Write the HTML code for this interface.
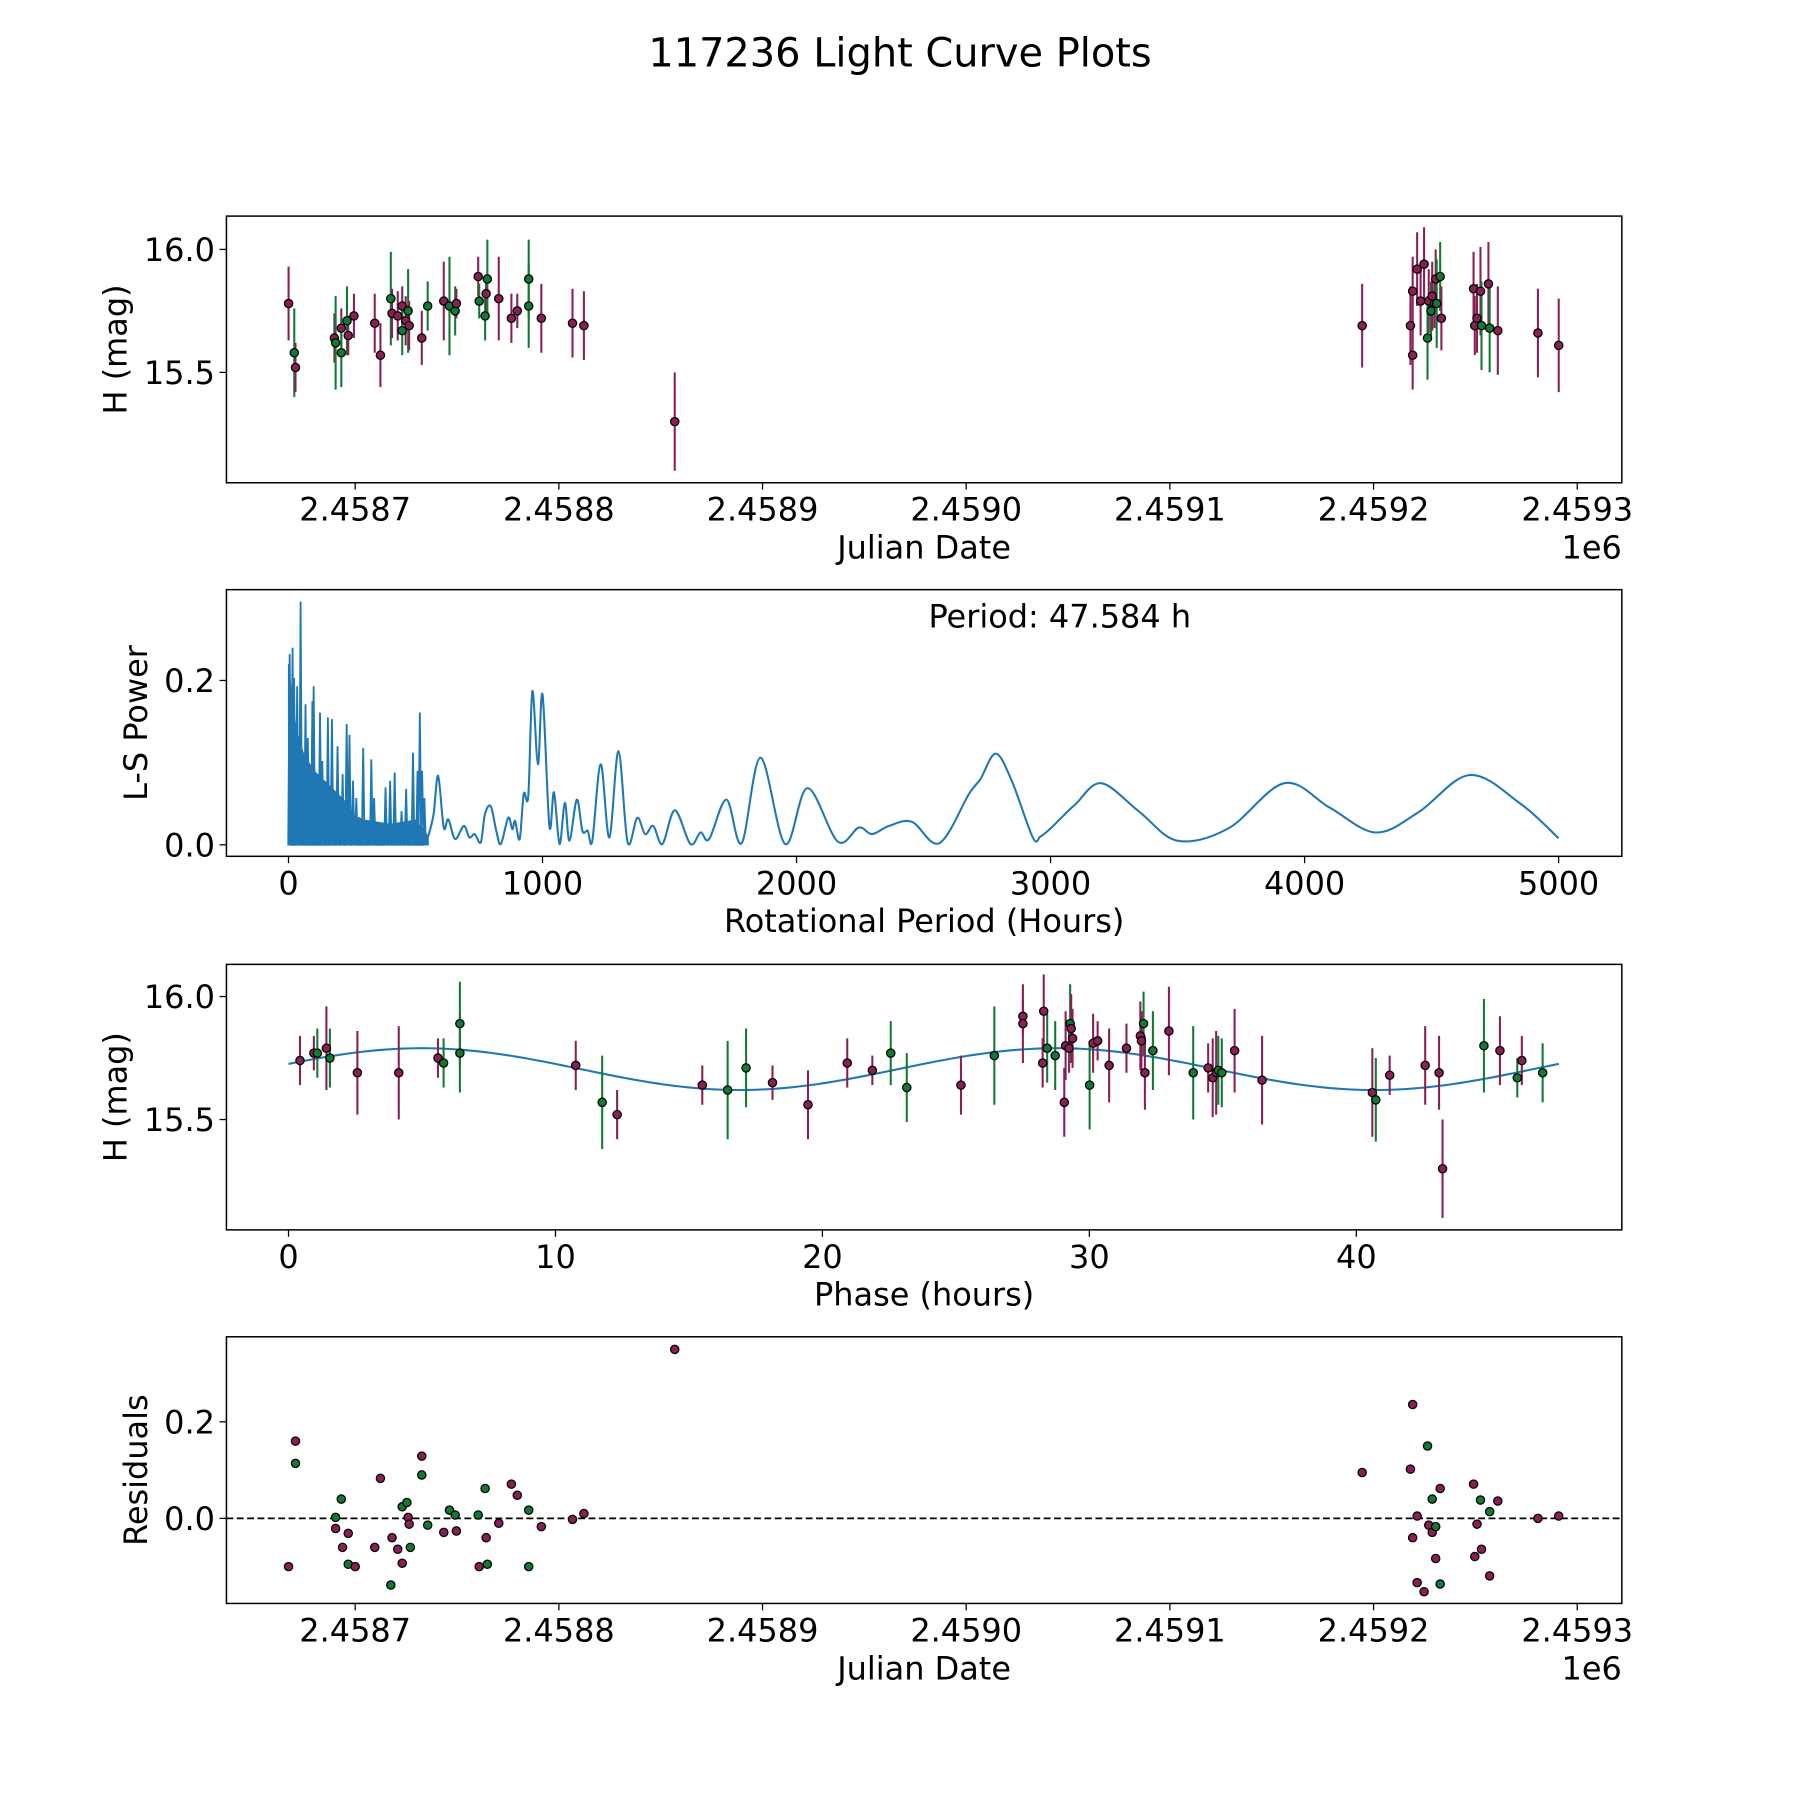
<!DOCTYPE html>
<html><head><meta charset="utf-8"><title>117236 Light Curve Plots</title>
<style>html,body{margin:0;padding:0;background:#fff}svg{display:block}text{font-family:"DejaVu Sans","Liberation Sans",sans-serif;fill:#000}</style>
</head><body>
<svg id="fig" xmlns="http://www.w3.org/2000/svg" width="1800" height="1800" viewBox="0 0 1566 1566">
<rect width="1566" height="1566" fill="#fff"/>
<text x="783" y="58" font-size="34.7" text-anchor="middle">117236 Light Curve Plots</text>
</svg>
<script>
// ---------- DATA ----------
// Panel 1: days since JD 2458700, magnitude, error, filter colour
const lcDays=[-32.7,-29.9,-29.3,-10.2,-9.6,-6.8,-6.8,-4.0,-3.4,-0.6,9.6,12.4,17.5,18.1,20.9,23.1,23.1,24.8,26.0,26.5,32.7,35.6,43.5,46.3,49.1,49.7,60.4,60.9,63.8,64.3,64.9,70.5,76.7,79.6,85.2,85.2,91.4,106.7,112.3,156.9,494.4,518.1,519.2,519.2,521.4,523.1,524.8,527.1,526.5,528.2,528.8,529.9,530.5,531.0,532.7,533.3,549.1,549.7,550.8,552.5,553.0,556.4,557.0,561.0,580.7,590.9];
const lcMag=[15.78,15.58,15.52,15.64,15.62,15.68,15.58,15.71,15.65,15.73,15.70,15.57,15.80,15.74,15.73,15.77,15.67,15.71,15.75,15.69,15.64,15.77,15.79,15.77,15.75,15.78,15.89,15.79,15.73,15.82,15.88,15.80,15.72,15.75,15.77,15.88,15.72,15.70,15.69,15.30,15.69,15.69,15.57,15.83,15.92,15.79,15.94,15.79,15.64,15.75,15.81,15.78,15.88,15.78,15.89,15.72,15.84,15.69,15.72,15.83,15.69,15.86,15.68,15.67,15.66,15.61];
const lcErr=[0.15,0.18,0.1,0.1,0.19,0.08,0.14,0.14,0.08,0.09,0.12,0.13,0.19,0.1,0.1,0.08,0.1,0.1,0.17,0.1,0.11,0.1,0.16,0.2,0.1,0.06,0.08,0.07,0.1,0.07,0.16,0.17,0.1,0.07,0.17,0.16,0.14,0.14,0.14,0.2,0.17,0.16,0.14,0.14,0.15,0.14,0.15,0.13,0.17,0.12,0.14,0.1,0.12,0.18,0.14,0.13,0.15,0.12,0.14,0.18,0.18,0.17,0.18,0.18,0.18,0.19];
const lcBand="PGPPGPGGPPPPGPPPGPGPPGPGGPPGGPGPPPGGPPPPPPPPPPPPGGPPPGGPPPPPGPGPPP";
// Panel 2: periodogram (hours, power)
const denseP=[4.5,16,22,34,47.6,67,76,94,99,124,133,155,171,193,213,229,240,254,267,294,326,337,382,400,418,445,463,490,508,517,526,535];
const denseV=[0.232,0.24,0.203,0.193,0.296,0.171,0.13,0.175,0.193,0.161,0.102,0.155,0.153,0.12,0.086,0.147,0.134,0.078,0.057,0.118,0.104,0.057,0.07,0.078,0.088,0.041,0.068,0.112,0.09,0.161,0.09,0.057];
const envP=[0,10,30,60,100,150,200,230,260,300,400,500,550];
const envV=[0.22,0.19,0.14,0.11,0.09,0.075,0.06,0.05,0.035,0.03,0.025,0.03,0.01];
const smoothP=[550,571,589,611,629,656,690,712,733,757,773,796,818,836,865,881,892,910,926,944,960,982,1000,1027,1045,1067,1088,1106,1135,1157,1178,1196,1229,1263,1299,1335,1373,1404,1436,1472,1521,1582,1622,1656,1724,1784,1858,1955,2043,2162,2245,2297,2364,2454,2562,2679,2724,2784,2847,2930,2960,3000,3049,3100,3200,3350,3500,3700,3920,4100,4280,4450,4650,4850,5000];
const smoothV=[0.01,0.037,0.084,0.021,0.031,0.007,0.023,0.009,0.013,0.003,0.037,0.047,0.017,0.001,0.033,0.019,0.029,0.007,0.062,0.06,0.187,0.098,0.183,0.023,0.064,0.001,0.051,0.005,0.055,0.017,0.017,0.005,0.098,0.009,0.114,0.003,0.033,0.013,0.023,0.001,0.042,0.001,0.015,0.007,0.055,0.002,0.106,0.001,0.069,0.004,0.021,0.013,0.023,0.028,0.002,0.062,0.08,0.111,0.078,0.009,0.01,0.02,0.035,0.05,0.075,0.04,0.005,0.02,0.075,0.045,0.015,0.04,0.085,0.05,0.008];
// Panel 3: phase-folded
const phHours=[0.43,0.95,1.08,1.42,1.55,2.58,4.13,5.60,5.81,6.42,6.42,10.76,11.75,12.31,15.50,16.45,17.14,18.13,19.46,20.93,21.87,22.56,23.16,25.19,26.44,27.51,27.51,28.25,28.29,28.42,28.72,29.06,29.11,29.24,29.28,29.32,29.37,30.01,30.14,30.31,30.74,31.39,31.91,31.95,32.03,32.08,32.38,32.98,33.89,34.45,34.62,34.75,34.83,34.96,35.44,36.47,40.60,40.73,41.25,42.58,43.10,43.23,44.78,45.38,46.03,46.20,46.98];
const phMag=[15.74,15.77,15.77,15.79,15.75,15.69,15.69,15.75,15.73,15.89,15.77,15.72,15.57,15.52,15.64,15.62,15.71,15.65,15.56,15.73,15.70,15.77,15.63,15.64,15.76,15.92,15.89,15.73,15.94,15.79,15.76,15.57,15.80,15.79,15.89,15.87,15.83,15.64,15.81,15.82,15.72,15.79,15.84,15.82,15.89,15.69,15.78,15.86,15.69,15.71,15.67,15.69,15.70,15.69,15.78,15.66,15.61,15.58,15.68,15.72,15.69,15.30,15.80,15.78,15.67,15.74,15.69];
const phErr=[0.1,0.07,0.1,0.17,0.12,0.17,0.19,0.08,0.1,0.17,0.16,0.1,0.19,0.1,0.08,0.2,0.16,0.07,0.14,0.1,0.06,0.13,0.14,0.12,0.2,0.07,0.16,0.1,0.15,0.14,0.14,0.14,0.14,0.1,0.16,0.14,0.12,0.18,0.12,0.08,0.15,0.1,0.14,0.12,0.13,0.15,0.16,0.18,0.19,0.1,0.16,0.17,0.14,0.14,0.17,0.18,0.18,0.17,0.08,0.16,0.15,0.2,0.19,0.14,0.08,0.1,0.12];
const phBand="PPGPGPPPGGGPGPPGGPPPPGGPGPPPPGGPPPGPPGPPPPPPGPGPGPPPGGPPPGPPPPGPGPG";
const modelMean=15.705, modelAmp=0.085, modelPeriod=23.79, modelShift=-0.95, foldPeriod=47.584;
// Panel 4: residuals
const resDays=[-32.7,-29.3,-29.3,-9.6,-9.6,-6.8,-6.2,-3.4,-3.4,0,9.6,12.4,17.5,18.1,20.9,23.1,23.1,25.4,26.0,26.5,27.1,32.7,32.7,35.6,43.5,46.3,49.1,49.7,60.4,60.9,63.8,64.3,64.9,70.5,76.7,79.6,85.2,85.2,91.4,106.7,112.3,156.9,494.4,518.1,519.2,519.2,521.4,521.4,524.8,526.5,527.1,528.8,528.8,530.5,530.5,532.7,532.7,549.1,549.7,550.8,552.5,553.0,557.0,557.0,561.0,580.7,590.9];
const resVal=[-0.1,0.16,0.114,0.002,-0.021,0.04,-0.06,-0.031,-0.095,-0.1,-0.06,0.083,-0.138,-0.04,-0.064,-0.093,0.024,0.033,0.002,-0.012,-0.06,0.129,0.09,-0.014,-0.029,0.017,0.007,-0.026,0.007,-0.1,0.062,-0.04,-0.095,-0.01,0.071,0.048,0.017,-0.1,-0.017,-0.002,0.01,0.35,0.095,0.102,0.236,-0.04,0.005,-0.133,-0.152,0.15,-0.014,0.04,-0.029,-0.017,-0.083,0.062,-0.136,0.071,-0.079,-0.012,0.038,-0.064,0.014,-0.119,0.036,0,0.005];
const resBand="PPGGPGPPGPPPGPPPGGPPGPGGPGGPGPGPGPPPGGPPPPPPPPPPPGPGPGPPGPPPGPGPPPP";
const jdTicks=[0,100,200,300,400,500,600];
const jdTickLabels=["2.4587","2.4588","2.4589","2.4590","2.4591","2.4592","2.4593"];
const magTicks=[15.5,16.0], magTickLabels=["15.5","16.0"];
const lsXTicks=[0,1000,2000,3000,4000,5000], lsYTicks=[0,0.2], lsYLabels=["0.0","0.2"];
const phXTicks=[0,10,20,30,40], resYTicks=[0,0.2], resYLabels=["0.0","0.2"];

// ---------- DRAW ----------
const NS="http://www.w3.org/2000/svg", svg=document.getElementById('fig');
const COL={P:"#8a1f56",G:"#117a32"};
function mk(tag,attrs,parent){const e=document.createElementNS(NS,tag);for(const k in attrs)e.setAttribute(k,attrs[k]);(parent||svg).appendChild(e);return e;}
function scale(d0,d1,r0,r1){return v=>r0+(v-d0)*(r1-r0)/(d1-d0);}
const L=197,R=1411;
function axes(name,top,bot,x,y,xt,xl,yt,yl,xlabel,ylabel,ylx){
  const g=mk('g',{});
  
  
  xt.forEach((v,i)=>{const px=x(v);mk('line',{x1:px,x2:px,y1:bot,y2:bot+6,stroke:'#000','stroke-width':1.1},g);
    const t=mk('text',{x:px,y:bot+33,'font-size':27.8,'text-anchor':'middle'},g);t.textContent=xl[i];
    });
  yt.forEach((v,i)=>{const py=y(v);mk('line',{x1:L-6,x2:L,y1:py,y2:py,stroke:'#000','stroke-width':1.1},g);
    const t=mk('text',{x:L-10,y:py+10,'font-size':27.8,'text-anchor':'end'},g);t.textContent=yl[i];
    });
  const xl2=mk('text',{x:804,y:bot+66,'font-size':27.8,'text-anchor':'middle'},g);xl2.textContent=xlabel;
  
  const cy=(top+bot)/2;const yl2=mk('text',{x:ylx,y:cy,'font-size':27.8,'text-anchor':'middle',transform:`rotate(-90 ${ylx} ${cy})`},g);yl2.textContent=ylabel;
  
  return g;}
function frame(g,top,bot){const r=mk('rect',{x:L,y:top,width:R-L,height:bot-top,fill:'none',stroke:'#000','stroke-width':1.3},g);
  }
function errPoints(g,xs,ys,es,bands,x,y){
  xs.forEach((v,i)=>{const c=COL[bands[i]];const px=x(v);
    const l=mk('line',{x1:px,x2:px,y1:y(ys[i]-es[i]),y2:y(ys[i]+es[i]),stroke:c,'stroke-width':1.8},g);
    });
  xs.forEach((v,i)=>{const c=COL[bands[i]];
    const p=mk('circle',{cx:x(v),cy:y(ys[i]),r:3.6,fill:c,stroke:'#000','stroke-width':1.1},g);
    });}

// Panel 1
{const top=188,bot=420;const x=scale(0,100,309,486.2),y=scale(16.0,15.5,217,324);
 const g=axes('light-curve-panel',top,bot,x,y,jdTicks,jdTickLabels,magTicks,magTickLabels,'Julian Date','H (mag)',110);
 errPoints(g,lcDays,lcMag,lcErr,lcBand,x,y);frame(g,top,bot);
 const o=mk('text',{x:R,y:bot+66,'font-size':27.8,'text-anchor':'end'},g);o.textContent='1e6';
 }
// Panel 2
{const top=513,bot=745;const x=scale(0,1000,251,472),y=scale(0,0.2,735,592);
 const g=axes('periodogram-panel',top,bot,x,y,lsXTicks,lsXTicks.map(String),lsYTicks,lsYLabels,'Rotational Period (Hours)','L-S Power',128);
 let env='M'+x(envP[0])+','+y(0);envP.forEach((p,i)=>env+=' L'+x(p)+','+y(envV[i]));env+=' L'+x(envP[envP.length-1])+','+y(0)+'Z';
 const ea=mk('path',{d:env,fill:'#1f77b4',stroke:'#1f77b4','stroke-width':1},g);
 
 let d='M'+x(0)+','+y(0);denseP.forEach((p,i)=>{d+=' L'+(x(p)-1.2)+','+y(0)+' L'+x(p)+','+y(denseV[i])+' L'+(x(p)+1.2)+','+y(0);});
 const sp=mk('path',{d:d,fill:'none',stroke:'#1f77b4','stroke-width':1.6},g);
 
 // smooth catmull-rom
 const pts=smoothP.map((p,i)=>[x(p),y(smoothV[i])]);let s='M'+pts[0][0]+','+pts[0][1];
 for(let i=0;i<pts.length-1;i++){const p0=pts[Math.max(0,i-1)],p1=pts[i],p2=pts[i+1],p3=pts[Math.min(pts.length-1,i+2)];
   s+=` C${p1[0]+(p2[0]-p0[0])/6},${p1[1]+(p2[1]-p0[1])/6} ${p2[0]-(p3[0]-p1[0])/6},${p2[1]-(p3[1]-p1[1])/6} ${p2[0]},${p2[1]}`;}
 const sl=mk('path',{d:s,fill:'none',stroke:'#1f77b4','stroke-width':1.8},g);
 
 frame(g,top,bot);
 const t=mk('text',{x:922,y:546,'font-size':27.8,'text-anchor':'middle'},g);t.textContent='Period: '+foldPeriod.toFixed(3)+' h';
 }
// Panel 3
{const top=839,bot=1070;const x=scale(0,40,251,1180),y=scale(16.0,15.5,867,974);
 const g=axes('phase-panel',top,bot,x,y,phXTicks,phXTicks.map(String),magTicks,magTickLabels,'Phase (hours)','H (mag)',110);
 let d='';for(let k=0;k<=200;k++){const ph=foldPeriod*k/200;const m=modelMean+modelAmp*Math.sin(2*Math.PI*(ph-modelShift)/modelPeriod);d+=(k?' L':'M')+x(ph)+','+y(m);}
 const ml=mk('path',{d:d,fill:'none',stroke:'#1f77b4','stroke-width':1.8},g);
 
 errPoints(g,phHours,phMag,phErr,phBand,x,y);frame(g,top,bot);}
// Panel 4
{const top=1163,bot=1395;const x=scale(0,100,309,486.2),y=scale(0,0.2,1321,1237);
 const g=axes('residuals-panel',top,bot,x,y,jdTicks,jdTickLabels,resYTicks,resYLabels,'Julian Date','Residuals',128);
 const z=mk('line',{x1:L,x2:R,y1:y(0),y2:y(0),stroke:'#000','stroke-width':1.6,'stroke-dasharray':'6,3'},g);
 
 resDays.forEach((v,i)=>{const p=mk('circle',{cx:x(v),cy:y(resVal[i]),r:3.6,fill:COL[resBand[i]],stroke:'#000','stroke-width':1.1},g);
   });
 frame(g,top,bot);
 const o=mk('text',{x:R,y:bot+66,'font-size':27.8,'text-anchor':'end'},g);o.textContent='1e6';
 }
</script>
</body></html>
